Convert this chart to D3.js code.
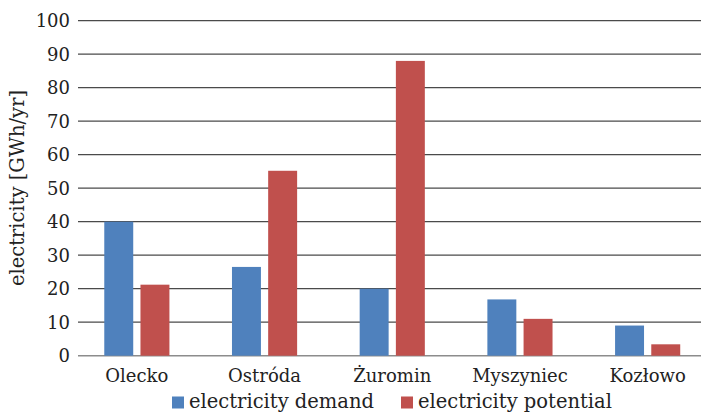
<!DOCTYPE html>
<html><head><meta charset="utf-8">
<script src="https://cdn.jsdelivr.net/npm/d3@7"></script>
<style>body{margin:0;background:#fff}svg{display:block}text{font-family:"DejaVu Serif",serif;fill:#222}</style>
</head><body><svg id="c" width="701" height="413"></svg>
<script>
const categories = ["Olecko", "Ostróda", "Żuromin", "Myszyniec", "Kozłowo"];
const seriesNames = ["electricity demand", "electricity potential"];
const demand = [40, 26.5, 20, 16.8, 9];
const potential = [21.2, 55.2, 88, 11, 3.4];
const yTicks = [0, 10, 20, 30, 40, 50, 60, 70, 80, 90, 100];
const colors = ["#4F81BD", "#C0504D"];

const svg = d3.select("#c");
const fs = 18;
const fsBig = 19.5;
const y = d3.scaleLinear().domain([0, 100]).range([355.7, 20.7]);
const x0 = d3.scaleBand().domain(categories).range([73, 711.5]).paddingInner(0).paddingOuter(0);
const x1 = d3.scaleBand().domain(seriesNames).range([0, x0.bandwidth()]).paddingInner(0.2).paddingOuter(0.864);
const values = [demand, potential];

// gridlines
svg.append("g").selectAll("line").data(yTicks).join("line")
  .attr("x1", 78).attr("x2", 711)
  .attr("y1", d => y(d)).attr("y2", d => y(d))
  .attr("stroke", d => d === 0 ? "#8c8c8c" : "#4a4a4a").attr("stroke-width", d => d === 0 ? 1.6 : 1.2);

// y tick labels
svg.append("g").selectAll("text").data(yTicks).join("text")
  .attr("x", 70).attr("y", d => y(d)).attr("dy", "0.36em")
  .attr("text-anchor", "end").attr("font-size", fs).text(d => d);

// bars
seriesNames.forEach((s, si) => {
  svg.append("g").selectAll("rect").data(categories).join("rect")
    .attr("x", c => x0(c) + x1(s))
    .attr("width", x1.bandwidth())
    .attr("y", (c, i) => y(values[si][i]))
    .attr("height", (c, i) => y(0) - y(values[si][i]))
    .attr("fill", colors[si]);
});

// category labels
svg.append("g").selectAll("text").data(categories).join("text")
  .attr("x", c => x0(c) + x0.bandwidth() / 2).attr("y", 382)
  .attr("text-anchor", "middle").attr("font-size", fs).text(c => c);

// y axis title
svg.append("text").attr("transform", "translate(24,188) rotate(-90)")
  .attr("text-anchor", "middle").attr("font-size", fsBig).text("electricity [GWh/yr]");

// legend
const legX = [172, 401];
seriesNames.forEach((s, si) => {
  svg.append("rect").attr("x", legX[si]).attr("y", 396.5).attr("width", 12).attr("height", 12).attr("fill", colors[si]);
  svg.append("text").attr("x", legX[si] + 17).attr("y", 408.3).attr("font-size", fsBig).text(s);
});
</script></body></html>
